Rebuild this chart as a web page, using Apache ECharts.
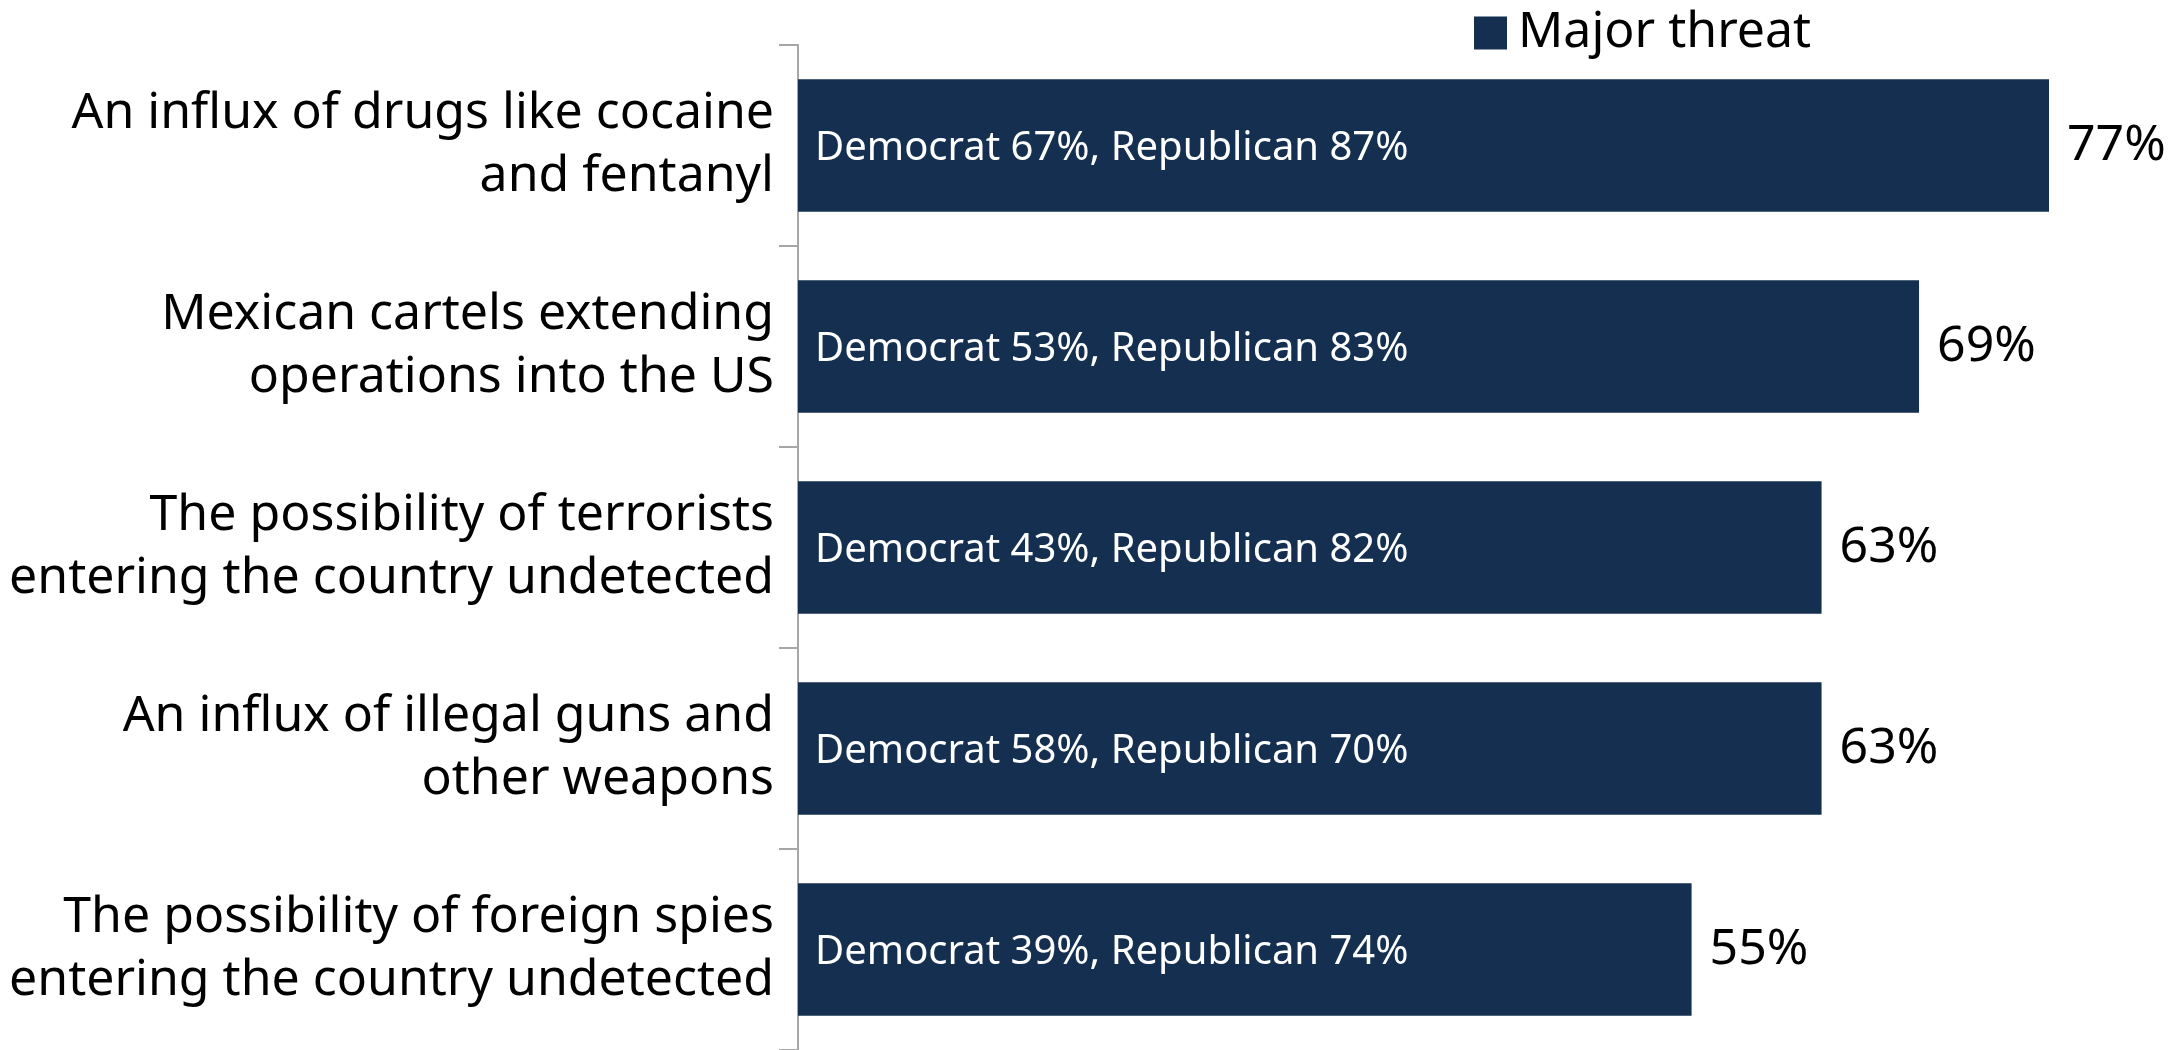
<!DOCTYPE html>
<html>
<head>
<meta charset="utf-8">
<script src="https://cdn.jsdelivr.net/npm/echarts@6/dist/echarts.min.js"></script>
<style>
html,body{margin:0;padding:0;background:#fff;}
#chart{width:2179px;height:1050px;}
</style>
</head>
<body>
<div id="chart"></div>
<script>
const categories = [
  "An influx of drugs like cocaine\nand fentanyl",
  "Mexican cartels extending\noperations into the US",
  "The possibility of terrorists\nentering the country undetected",
  "An influx of illegal guns and\nother weapons",
  "The possibility of foreign spies\nentering the country undetected"
];
const majorThreat = [77, 69, 63, 63, 55];
const democrat = [67, 53, 43, 58, 39];
const republican = [87, 83, 82, 70, 74];
const seriesName = "Major threat";

const FONT = "Noto Sans";
const chart = echarts.init(document.getElementById('chart'));
chart.setOption({
  animation: false,
  textStyle: { fontFamily: FONT },
  legend: {
    data: [seriesName],
    left: 1469, top: 3,
    itemWidth: 33, itemHeight: 33, itemGap: 10,
    icon: 'rect',
    textStyle: { fontFamily: FONT, fontSize: 50, color: '#000', padding: [0,0,0,6] }
  },
  grid: { left: 798, right: 0, top: 45, bottom: 0, containLabel: false },
  xAxis: {
    type: 'value', min: 0, max: 85, show: false
  },
  yAxis: {
    type: 'category', data: categories, inverse: true,
    axisLine: { show: true, lineStyle: { color: '#a6a6a6', width: 2 } },
    axisTick: { show: true, length: 19, lineStyle: { color: '#a6a6a6', width: 2 } },
    axisLabel: {
      fontFamily: FONT, fontSize: 50, color: '#000', lineHeight: 63,
      align: 'right', margin: 24
    }
  },
  series: [{
    name: seriesName,
    type: 'bar',
    data: majorThreat,
    barCategoryGap: '34%',
    itemStyle: { color: '#152f51' },
    label: {
      show: true, position: 'right', distance: 18,
      fontFamily: FONT, fontSize: 50, color: '#000',
      formatter: p => p.value + '%'
    }
  }, {
    name: 'inner',
    type: 'custom',
    data: majorThreat.map((v, i) => [0, i]),
    renderItem: function (params, api) {
      const i = params.dataIndex;
      const pt = api.coord([0, i]);
      return {
        type: 'text',
        x: pt[0] + 17, y: pt[1] + 3,
        style: {
          text: 'Democrat ' + democrat[i] + '%, Republican ' + republican[i] + '%',
          fill: '#fff', fontFamily: FONT, fontSize: 40,
          verticalAlign: 'middle', align: 'left'
        }
      };
    },
    silent: true, z: 5
  }]
});
</script>
</body>
</html>
